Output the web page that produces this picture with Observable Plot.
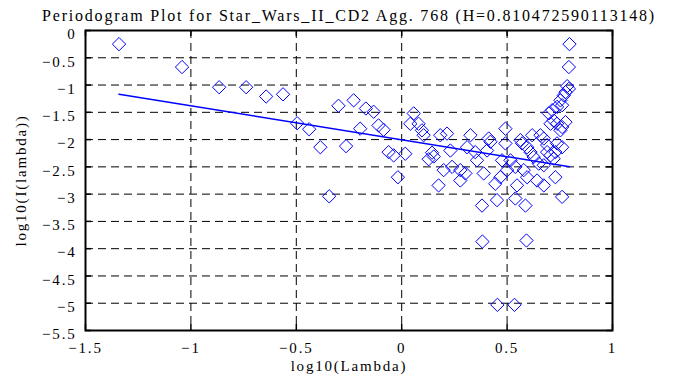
<!DOCTYPE html>
<html>
<head>
<meta charset="utf-8">
<script src="https://cdn.jsdelivr.net/npm/d3@7"></script>
<script src="https://cdn.jsdelivr.net/npm/@observablehq/plot@0.6"></script>
<style>
  html, body { margin: 0; padding: 0; background: #fff; }
  #chart svg { display: block; }
  #chart text { letter-spacing: 1.8px; }
</style>
</head>
<body>
<div id="chart"></div>
<script>
const titleText = "Periodogram Plot for Star_Wars_II_CD2 Agg. 768 (H=0.810472590113148)";
const xLabel = "log10(Lambda)";
const yLabel = "log10(I(lambda))";

const xTicks = [-1.5, -1, -0.5, 0, 0.5, 1];
const yTicks = [0, -0.5, -1, -1.5, -2, -2.5, -3, -3.5, -4, -4.5, -5, -5.5];

const logLambda = [
  -1.341, -1.042, -0.866, -0.738, -0.643, -0.563, -0.496, -0.439, -0.386, -0.344,
  -0.300, -0.228, -0.264, -0.170, -0.133, -0.197, -0.110, -0.086, -0.062, -0.038,
  0.017, -0.018, 0.057, 0.041, 0.080, 0.096, 0.104, 0.128, 0.144, 0.152,
  0.183, 0.215, 0.231, 0.199, 0.239, 0.278, 0.302, 0.175, 0.278, 0.326,
  0.310, 0.349, 0.357, 0.389, 0.413, 0.421, 0.405, 0.444, 0.468, 0.381,
  0.452, 0.492, 0.492, 0.476, 0.516, 0.500, 0.539, 0.547, 0.539, 0.587,
  0.563, 0.571, 0.595, 0.619, 0.611, 0.626, 0.579, 0.595, 0.642, 0.674,
  0.650, 0.674, 0.658, 0.674, 0.690, 0.690, 0.706, 0.721, 0.729, 0.737,
  0.761, 0.729, 0.761, 0.698, 0.714, 0.737, 0.753, 0.761, 0.769, 0.777,
  0.785, 0.721, 0.737, 0.761, 0.777, 0.706, 0.753, 0.796, 0.793, 0.793,
  0.454, 0.535, 0.383, 0.592
];
const logI = [
  -0.25, -0.67, -1.04, -1.04, -1.21, -1.17, -1.70, -1.81, -2.14, -3.04,
  -1.38, -1.28, -2.12, -1.43, -1.49, -1.80, -1.74, -1.82, -2.23, -2.29,
  -2.26, -2.69, -1.52, -1.71, -1.71, -1.83, -1.92, -2.36, -2.24, -2.31,
  -1.92, -1.89, -2.20, -2.56, -2.50, -2.56, -2.62, -2.84, -2.75, -1.92,
  -2.14, -2.23, -2.38, -2.62, -1.98, -2.04, -2.20, -2.81, -2.69, -3.21,
  -3.11, -1.80, -2.07, -2.38, -2.38, -2.56, -2.50, -2.84, -3.08, -3.21,
  -2.01, -2.07, -2.14, -1.92, -2.23, -2.32, -2.56, -2.69, -2.75, -2.84,
  -2.44, -2.47, -1.92, -1.98, -2.10, -2.23, -2.29, -2.35, -2.23, -2.07,
  -2.14, -2.69, -3.05, -1.52, -1.46, -1.40, -1.28, -1.37, -1.19, -1.13,
  -1.02, -1.65, -1.71, -1.77, -1.68, -1.71, -1.83, -0.25, -0.67, -1.07,
  -5.03, -5.03, -3.87, -3.85
];

// least-squares fit line: slope = 1 - 2H
const fitSlope = [-0.621];
const fitIntercept = [-2.003];

const points = logLambda.map((x, i) => ({x, y: logI[i]}));
const xMin = d3.min(logLambda), xMax = d3.max(logLambda);
const fitLine = [xMin, xMax].map(x => ({x, y: fitIntercept[0] + fitSlope[0] * x}));

const xDom = [d3.min(xTicks), d3.max(xTicks)];
const yDom = [d3.min(yTicks), d3.max(yTicks)];
const fmt = d => d3.format("~g")(d).replace(/[-\u2212]/g, "\u2212");
const font = "'Liberation Serif', 'Times New Roman', serif";
const tickLenX = 0.028; // inward tick length in x units (~6px)
const tickLenY = 0.11;  // inward tick length in y units (~6px)

const chart = Plot.plot({
  width: 697,
  height: 385,
  marginLeft: 85,
  marginRight: 85,
  marginTop: 30,
  marginBottom: 55,
  style: {fontFamily: font, fontSize: "15px", color: "black", background: "white"},
  x: {domain: xDom},
  y: {domain: yDom},
  marks: [
    Plot.gridX(xTicks.slice(1, -1), {stroke: "black", strokeOpacity: 1, strokeDasharray: "8,5", strokeWidth: 1}),
    Plot.gridY(yTicks.slice(1, -1), {stroke: "black", strokeOpacity: 1, strokeDasharray: "8,5", strokeWidth: 1}),
    Plot.axisX(xTicks, {anchor: "bottom", tickSize: 0, tickPadding: 12, tickFormat: fmt, label: null, fontSize: 15}),
    Plot.axisY(yTicks, {anchor: "left", tickSize: 0, tickPadding: 9, dy: 4, tickFormat: fmt, label: null, fontSize: 15}),
    Plot.ruleX(xTicks, {x: d => d, y1: yDom[0], y2: yDom[0] + tickLenY, stroke: "black", strokeWidth: 1.5}),
    Plot.ruleX(xTicks, {x: d => d, y1: yDom[1], y2: yDom[1] - tickLenY, stroke: "black", strokeWidth: 1.5}),
    Plot.ruleY(yTicks, {y: d => d, x1: xDom[0], x2: xDom[0] + tickLenX, stroke: "black", strokeWidth: 1.5}),
    Plot.ruleY(yTicks, {y: d => d, x1: xDom[1], x2: xDom[1] - tickLenX, stroke: "black", strokeWidth: 1.5}),
    Plot.line(fitLine, {x: "x", y: "y", stroke: "#0000ff", strokeWidth: 1.5}),
    Plot.dot(points, {x: "x", y: "y", symbol: "diamond2", r: 6, stroke: "#0000ff", strokeWidth: 1, fill: "none"}),
    Plot.frame({stroke: "black", strokeWidth: 2}),
    Plot.text([titleText], {frameAnchor: "top", dy: -21, fontSize: 16, fill: "black"}),
    Plot.text([xLabel], {frameAnchor: "bottom", dy: 40, fontSize: 15, fill: "black"}),
    Plot.text([yLabel], {frameAnchor: "left", textAnchor: "middle", rotate: -90, dx: -64, fontSize: 15, fill: "black"})
  ]
});
document.getElementById("chart").appendChild(chart);
</script>
</body>
</html>
